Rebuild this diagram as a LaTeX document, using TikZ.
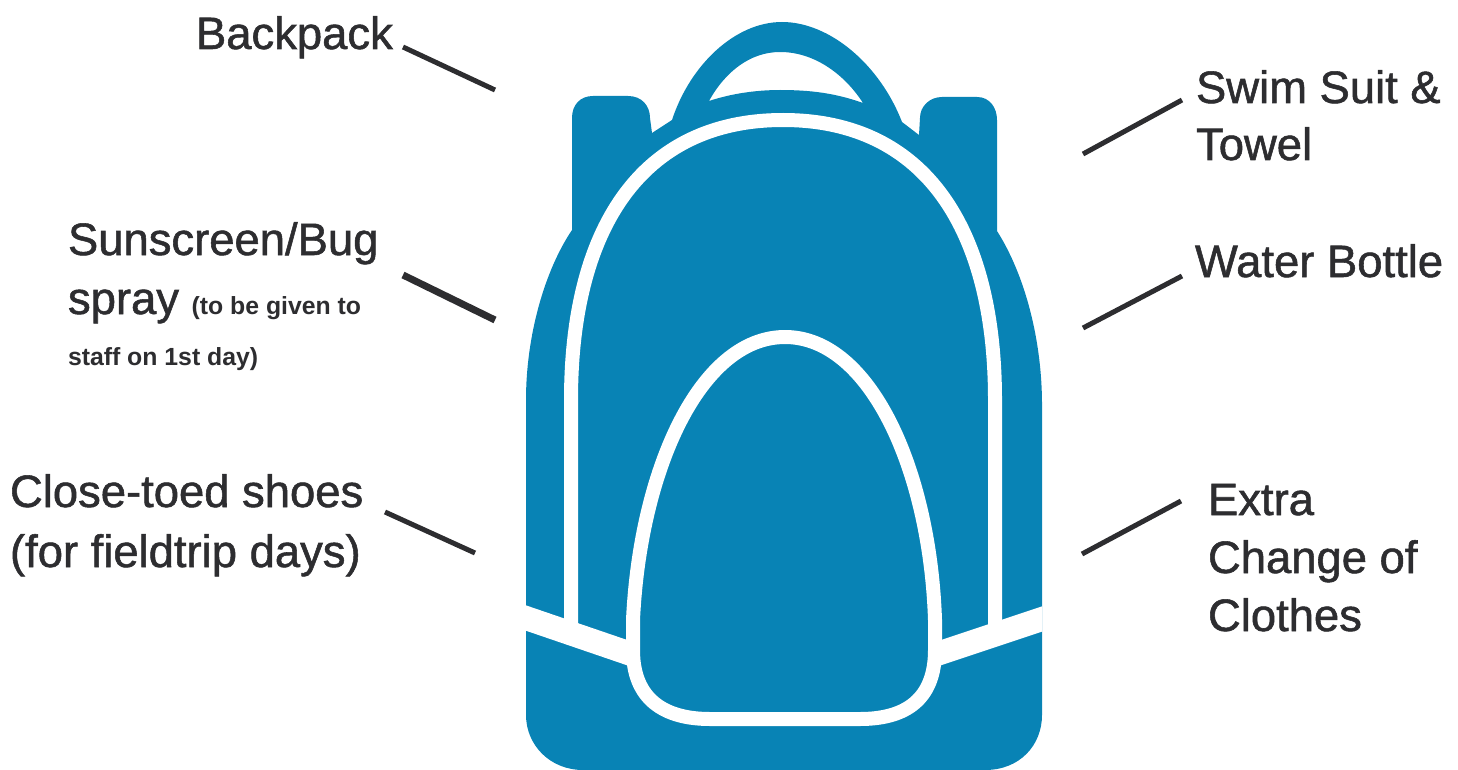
\documentclass[tikz,border=0pt]{standalone}
\usepackage{fontspec}
\setmainfont{Liberation Sans}
\newfontfamily\labelfont{Liberation Sans}[FakeBold=1.2]
\newfontfamily\notefont{Liberation Sans Bold}
\definecolor{packblue}{RGB}{8,131,181}
\definecolor{inkdark}{RGB}{45,45,48}
\tikzset{
  packfill/.style={fill=packblue,draw=none,even odd rule},
  seam/.style={draw=white,line width=14pt,line join=round},
  band/.style={draw=white,line width=24pt},
  leader/.style={draw=inkdark,line width=5pt},
  leaderthick/.style={draw=inkdark,line width=7pt},
  lbl/.style={anchor=base west,inner sep=0pt,outer sep=0pt,text=inkdark,align=left,font=\labelfont\fontsize{45.4}{58}\selectfont}
}
\newcommand{\notesize}{\notefont\fontsize{24.8}{26}\selectfont}
\begin{document}
\begin{tikzpicture}[x=1pt,y=-1pt]
\useasboundingbox (0,0) rectangle (1458,770);
% backpack silhouette with handle opening
\path[packfill]
 (572,118) .. controls (572,105) and (580,96) .. (593,96) -- (628,96)
 .. controls (642,96) and (650,106) .. (650,118) -- (652,133) -- (672,120)
 .. controls (690,65) and (735,22) .. (782,22) .. controls (830,22) and (880,65) .. (902,122)
 -- (919,135) -- (920,118) .. controls (920,106) and (930,97) .. (942,97) -- (977,97)
 .. controls (990,97) and (997,108) .. (997,120) -- (997,231)
 .. controls (1025,275) and (1042,340) .. (1042,405) -- (1042,715)
 .. controls (1042,745) and (1020,770) .. (985,770) -- (583,770)
 .. controls (550,770) and (526,745) .. (526,715) -- (526,400)
 .. controls (526,335) and (545,270) .. (572,230) -- cycle
 (709,101) .. controls (725,72) and (750,52) .. (780,52)
 .. controls (815,52) and (845,75) .. (863,103)
 .. controls (835,93) and (810,90) .. (780,90)
 .. controls (755,90) and (730,94) .. (709,101) -- cycle;
% white seams
\draw[seam] (571,625) -- (571,400) .. controls (571,230) and (640,120) .. (783,120)
 .. controls (926,120) and (995,230) .. (995,400) -- (995,625);
\begin{scope}
\clip (526,560) rectangle (1042,700);
\draw[band] (520,616) -- (634,655);
\draw[band] (1048,617) -- (934,655);
\end{scope}
\draw[seam,fill=packblue] (785,337) .. controls (700,337) and (640,470) .. (633,620) -- (633,650)
 .. controls (633,700) and (665,719) .. (710,719) -- (860,719)
 .. controls (905,719) and (935,700) .. (935,650) -- (935,620)
 .. controls (930,470) and (870,337) .. (785,337) -- cycle;
% labels
\node[lbl] (backpack) at (196,49) {Backpack};
\node[lbl] (swim) at (1196,160) {Swim Suit \&\\[-1pt]Towel};
\node[lbl] (water) at (1195,277) {Water Bottle};
\node[lbl] (extra) at (1208,631) {Extra\\Change of\\Clothes};
\node[lbl] (sun) at (68,365) {Sunscreen/Bug\\[1pt]spray {\notesize (to be given to}\\[-7pt]{\notesize staff on 1st day)}};
\node[lbl] (shoes) at (10,567) {Close-toed shoes\\[2pt](for fieldtrip days)};
% leader ends
\coordinate (a1) at (403,47); \coordinate (a2) at (495,90);
\coordinate (b1) at (1182,100); \coordinate (b2) at (1083,154);
\coordinate (c1) at (1182,276); \coordinate (c2) at (1083,328);
\coordinate (d1) at (1181,501); \coordinate (d2) at (1082,554);
\coordinate (e1) at (403,275); \coordinate (e2) at (495,320);
\coordinate (f1) at (385,512); \coordinate (f2) at (475,553);
\draw[leader] (a1) -- (a2);
\draw[leader] (b1) -- (b2);
\draw[leader] (c1) -- (c2);
\draw[leader] (d1) -- (d2);
\draw[leaderthick] (e1) -- (e2);
\draw[leader] (f1) -- (f2);
\end{tikzpicture}
\end{document}
